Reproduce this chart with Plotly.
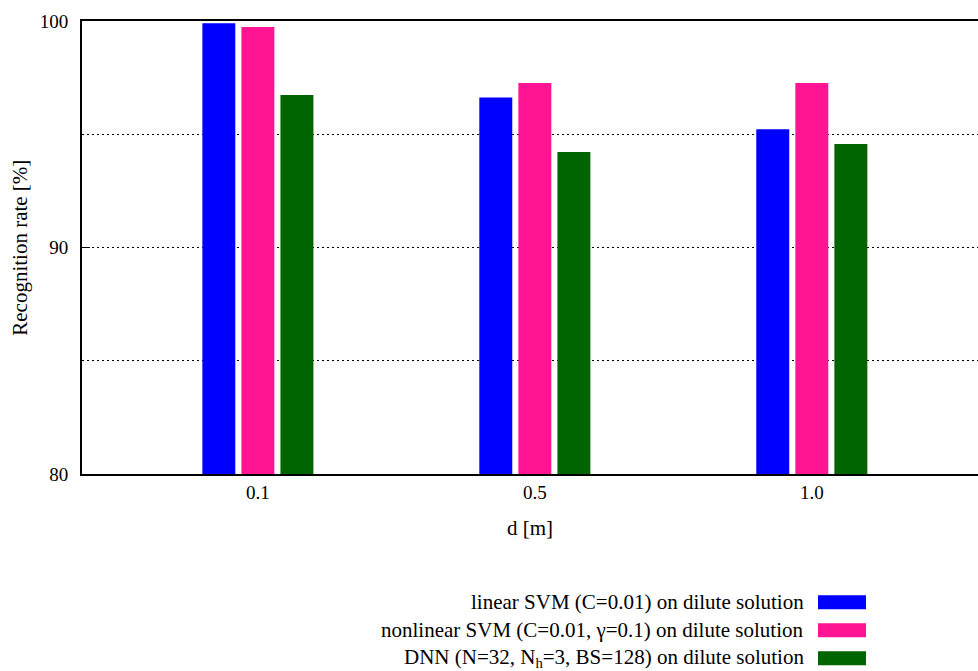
import plotly.graph_objects as go

categories = ["0.1", "0.5", "1.0"]
series_names = [
    "linear SVM (C=0.01) on dilute solution",
    "nonlinear SVM (C=0.01, γ=0.1) on dilute solution",
    "DNN (N=32, N<sub>h</sub>=3, BS=128) on dilute solution",
]
linear_svm = [99.9, 96.62, 95.22]
nonlinear_svm = [99.73, 97.26, 97.26]
dnn = [96.73, 94.22, 94.57]
colors = ["#0000ff", "#ff1493", "#006400"]
y_ticks = [80, 90, 100]

values = [linear_svm, nonlinear_svm, dnn]
font = "Liberation Serif, Times New Roman, serif"

fig = go.Figure()
for name, vals, col in zip(series_names, values, colors):
    fig.add_trace(go.Bar(x=categories, y=vals, name=name, marker_color=col,
                         marker_line_width=0, showlegend=False))

# Plot area geometry in pixels (for paper conversions)
L, R, T, B = 82, 978, 21, 474.5
W, H = R - L, B - T
def px(xp):
    return (xp - L) / W
def py(yp):
    return (B - yp) / H

legend_y = [603, 631, 659]
for name, col, yy in zip(series_names, colors, legend_y):
    fig.add_annotation(x=px(806), y=py(yy), xref="paper", yref="paper",
                       text=name, showarrow=False, xanchor="right", yanchor="middle",
                       font=dict(family=font, size=21, color="black"))
    fig.add_shape(type="rect", xref="paper", yref="paper",
                  x0=px(818), x1=px(866), y0=py(yy + 7), y1=py(yy - 7),
                  fillcolor=col, line=dict(width=0))

# y-axis title as a rotated annotation
fig.add_annotation(x=px(20), y=py(248), xref="paper", yref="paper",
                   text="Recognition rate [%]", showarrow=False, textangle=-90,
                   xanchor="center", yanchor="middle",
                   font=dict(family=font, size=21, color="black"))

fig.update_layout(
    width=978, height=671,
    margin=dict(l=L, r=0, t=T, b=671 - B),
    plot_bgcolor="white", paper_bgcolor="white",
    barmode="group", bargap=0.577, bargroupgap=0.156,
    font=dict(family=font, size=19, color="black"),
)
fig.update_xaxes(
    type="category", range=[-0.635, 2.6],
    showline=True, linecolor="black", linewidth=2, mirror=True,
    showgrid=False, ticks="",
    title=dict(text="d [m]", standoff=19, font=dict(size=21)),
    tickfont=dict(size=19),
)
fig.update_yaxes(
    range=[80, 100], tickvals=y_ticks, ticktext=[str(v) for v in y_ticks],
    showline=True, linecolor="black", linewidth=2, mirror=False,
    showgrid=True, gridcolor="black", gridwidth=1, griddash="2px,3px",
    ticks="inside", ticklen=8, tickcolor="black",
    minor=dict(dtick=5, showgrid=True, gridcolor="black", gridwidth=1, griddash="2px,3px", ticks=""),
    ticklabelstandoff=8,
    tickfont=dict(size=19),
    zeroline=False,
)

fig.write_html("out.html", config={"displayModeBar": False},
               post_script="document.body.style.margin='0';document.body.style.overflow='hidden';")
